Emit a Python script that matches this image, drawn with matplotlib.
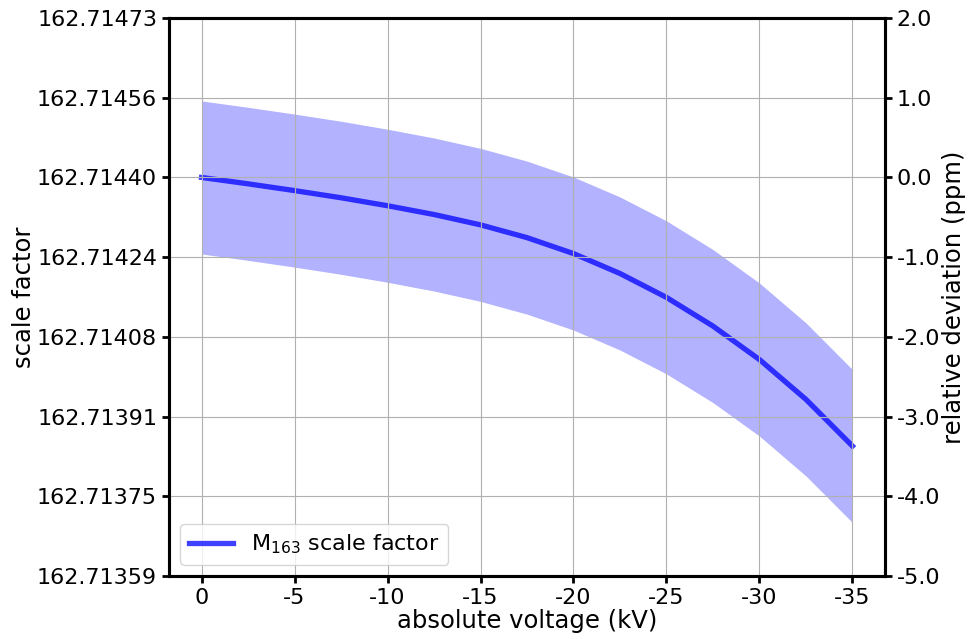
import numpy as np
import matplotlib.pyplot as plt

plt.rcParams['axes.unicode_minus'] = False

# data (relative deviation in ppm)
sf_ref = 162.71440
voltage = [0, -2.5, -5, -7.5, -10, -12.5, -15, -17.5, -20, -22.5, -25, -27.5, -30, -32.5, -35]
dev_mid = [0.0, -0.08, -0.165, -0.255, -0.355, -0.465, -0.595, -0.755, -0.955, -1.205, -1.505,
           -1.865, -2.285, -2.785, -3.37]
dev_hi = [0.96, 0.88, 0.795, 0.705, 0.605, 0.495, 0.365, 0.205, 0.005, -0.245, -0.545,
          -0.905, -1.325, -1.825, -2.41]
dev_lo = [-0.96, -1.04, -1.125, -1.215, -1.315, -1.425, -1.555, -1.715, -1.915, -2.165, -2.465,
          -2.825, -3.245, -3.745, -4.33]
ppm_ticks = [2, 1, 0, -1, -2, -3, -4, -5]
sf_labels = ['162.71473', '162.71456', '162.71440', '162.71424', '162.71408',
             '162.71391', '162.71375', '162.71359']
x_ticks = [0, -5, -10, -15, -20, -25, -30, -35]

to_sf = lambda d: sf_ref * (1 + np.asarray(d) * 1e-6)

fig = plt.figure(figsize=(9.7, 6.39), dpi=100)
ax = fig.add_axes([0.1742, 0.0986, 0.7382, 0.8732])
ax2 = ax.twinx()

ax.fill_between(voltage, to_sf(dev_lo), to_sf(dev_hi), color='blue', alpha=0.3, lw=0)
ax.plot(voltage, to_sf(dev_mid), color='blue', alpha=0.75, lw=3.8, label='M$_{163}$ scale factor')

ax.set_xlim(1.75, -36.75)
ax.set_xticks(x_ticks)
ax.set_xticklabels([str(v) for v in x_ticks])
ax.set_ylim(to_sf(-5), to_sf(2))
ax.set_yticks(to_sf(ppm_ticks))
ax.set_yticklabels(sf_labels)
ax2.set_ylim(-5, 2)
ax2.set_yticks(ppm_ticks)
ax2.set_yticklabels(['%.1f' % v for v in ppm_ticks])

ax.grid(True)
ax.set_axisbelow(False)
ax.set_xlabel('absolute voltage (kV)', fontsize=17.5, labelpad=1)
ax.set_ylabel('scale factor', fontsize=17.5, labelpad=1)
ax2.set_ylabel('relative deviation (ppm)', fontsize=17.5, labelpad=1)

for a in (ax, ax2):
    a.tick_params(labelsize=16, width=2, length=5)
    for s in a.spines.values():
        s.set_linewidth(2.2)

ax.legend(loc='lower left', fontsize=16)

fig.savefig('out.png', dpi=100)
